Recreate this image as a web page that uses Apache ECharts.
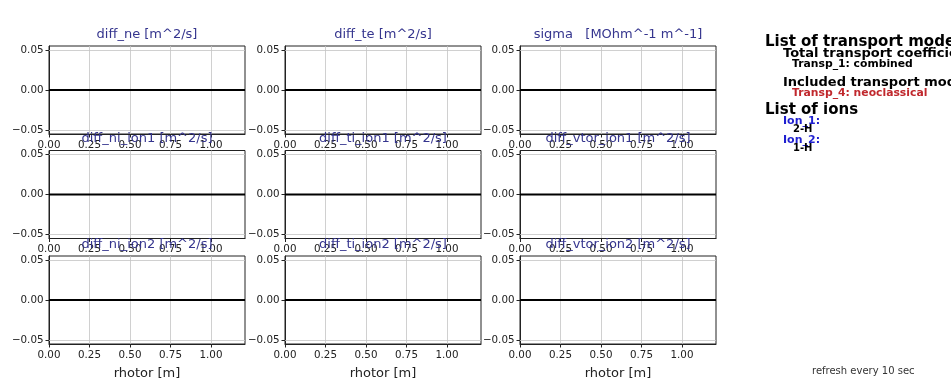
<!DOCTYPE html>
<html>
<head>
<meta charset="utf-8">
<script src="https://cdn.jsdelivr.net/npm/echarts@6/dist/echarts.min.js"></script>
<style>
  html, body { margin: 0; padding: 0; background: #fff; }
  #main { width: 951px; height: 381px; }
</style>
</head>
<body>
<div id="main"></div>
<script>
var rhotor = [0, 0.2, 0.4, 0.6, 0.8, 1.0, 1.21];

var diffNe = [0, 0, 0, 0, 0, 0, 0];
var diffTe = [0, 0, 0, 0, 0, 0, 0];
var sigma = [0, 0, 0, 0, 0, 0, 0];
var diffNiIon1 = [0, 0, 0, 0, 0, 0, 0];
var diffTiIon1 = [0, 0, 0, 0, 0, 0, 0];
var diffVterIon1 = [0, 0, 0, 0, 0, 0, 0];
var diffNiIon2 = [0, 0, 0, 0, 0, 0, 0];
var diffTiIon2 = [0, 0, 0, 0, 0, 0, 0];
var diffVterIon2 = [0, 0, 0, 0, 0, 0, 0];

var panelTitles = [
  "diff_ne [m^2/s]", "diff_te [m^2/s]", "sigma   [MOhm^-1 m^-1]",
  "diff_ni_ion1 [m^2/s]", "diff_ti_ion1 [m^2/s]", "diff_vtor_ion1 [m^2/s]",
  "diff_ni_ion2 [m^2/s]", "diff_ti_ion2 [m^2/s]", "diff_vtor_ion2 [m^2/s]"
];
var panelValues = [diffNe, diffTe, sigma, diffNiIon1, diffTiIon1, diffVterIon1,
  diffNiIon2, diffTiIon2, diffVterIon2];

var xTicks = [0, 0.25, 0.5, 0.75, 1.0];
var yTicks = [-0.05, 0, 0.05];
var xLabel = "rhotor [m]";

var colLeft = [49, 285, 520];
var rowTop = [46, 150.5, 256];
var boxW = 196;
var boxH = 88;

var font = "DejaVu Sans";
var chartDom = document.getElementById("main");
var myChart = echarts.init(chartDom);

var grids = [], xAxes = [], yAxes = [], series = [], titles = [];

for (var i = 0; i < 9; i++) {
  var r = Math.floor(i / 3), c = i % 3;
  grids.push({
    left: colLeft[c], top: rowTop[r], width: boxW, height: boxH,
    show: true, borderColor: "#222", borderWidth: 1, backgroundColor: "transparent"
  });
  xAxes.push({
    type: "value", gridIndex: i, min: 0, max: 1.21, interval: 0.25,
    name: r === 2 ? xLabel : "",
    nameLocation: "middle", nameGap: 23,
    nameTextStyle: { fontFamily: font, fontSize: 13, color: "#222" },
    axisLine: { show: true, onZero: false, lineStyle: { color: "#222" } },
    axisTick: { show: true, length: 3.5, lineStyle: { color: "#222" }, customValues: xTicks },
    axisLabel: { fontFamily: font, fontSize: 10.3, color: "#222", margin: 6,
      customValues: xTicks,
      formatter: function (v) { return v.toFixed(2); } },
    splitLine: { show: true, lineStyle: { color: "#c4c4c4", width: 0.8 } }
  });
  yAxes.push({
    type: "value", gridIndex: i, min: -0.055, max: 0.055,
    axisLine: { show: true, lineStyle: { color: "#222" } },
    axisTick: { show: true, length: 3.5, lineStyle: { color: "#222" }, customValues: yTicks },
    axisLabel: { fontFamily: font, fontSize: 10.3, color: "#222", margin: 5.5,
      customValues: yTicks,
      formatter: function (v) { return (v < 0 ? "\u22120" : "0") + Math.abs(v).toFixed(2).slice(1); } },
    splitLine: { show: false }
  });
  series.push({
    type: "line", xAxisIndex: i, yAxisIndex: i,
    data: rhotor.map(function (x, k) { return [x, panelValues[i][k]]; }),
    showSymbol: false, lineStyle: { color: "#000", width: 2.2 }, z: 3,
    markLine: {
      silent: true, symbol: "none", label: { show: false }, animation: false,
      lineStyle: { color: "#c4c4c4", width: 0.8, type: "solid" },
      data: [{ yAxis: yTicks[0] }, { yAxis: yTicks[2] }]
    }
  });
  titles.push({
    text: panelTitles[i], left: colLeft[c] + boxW / 2, top: rowTop[r] - 18,
    textAlign: "center", padding: 0,
    textStyle: { fontFamily: font, fontSize: 13, fontWeight: "normal", color: "#35358e" }
  });
}

function txt(x, y, s, size, color, bold) {
  return {
    type: "text", x: x, y: y, silent: true,
    style: { text: s, fontFamily: font, fontSize: size, fontWeight: bold ? "bold" : "normal",
      fill: color, verticalAlign: "middle", align: "left" }
  };
}

var option = {
  backgroundColor: "#fff",
  animation: false,
  title: titles,
  grid: grids,
  xAxis: xAxes,
  yAxis: yAxes,
  series: series,
  graphic: [
    txt(765, 42, "List of transport models", 15, "#000", true),
    txt(783, 54, "Total transport coefficients", 13, "#000", true),
    txt(792, 64.5, "Transp_1: combined", 10.8, "#000", true),
    txt(783, 83, "Included transport models", 13, "#000", true),
    txt(792, 93.5, "Transp_4: neoclassical", 10.8, "#c0282d", true),
    txt(765, 110.5, "List of ions", 15, "#000", true),
    txt(783, 121.5, "Ion_1:", 11, "#1f1fd0", true),
    txt(793, 129, "2-H", 10, "#000", true),
    txt(783, 140.5, "Ion_2:", 11, "#1f1fd0", true),
    txt(793, 148, "1-H", 10, "#000", true),
    txt(812, 371, "refresh every 10 sec", 10, "#333", false)
  ]
};

option && myChart.setOption(option);
</script>
</body>
</html>
